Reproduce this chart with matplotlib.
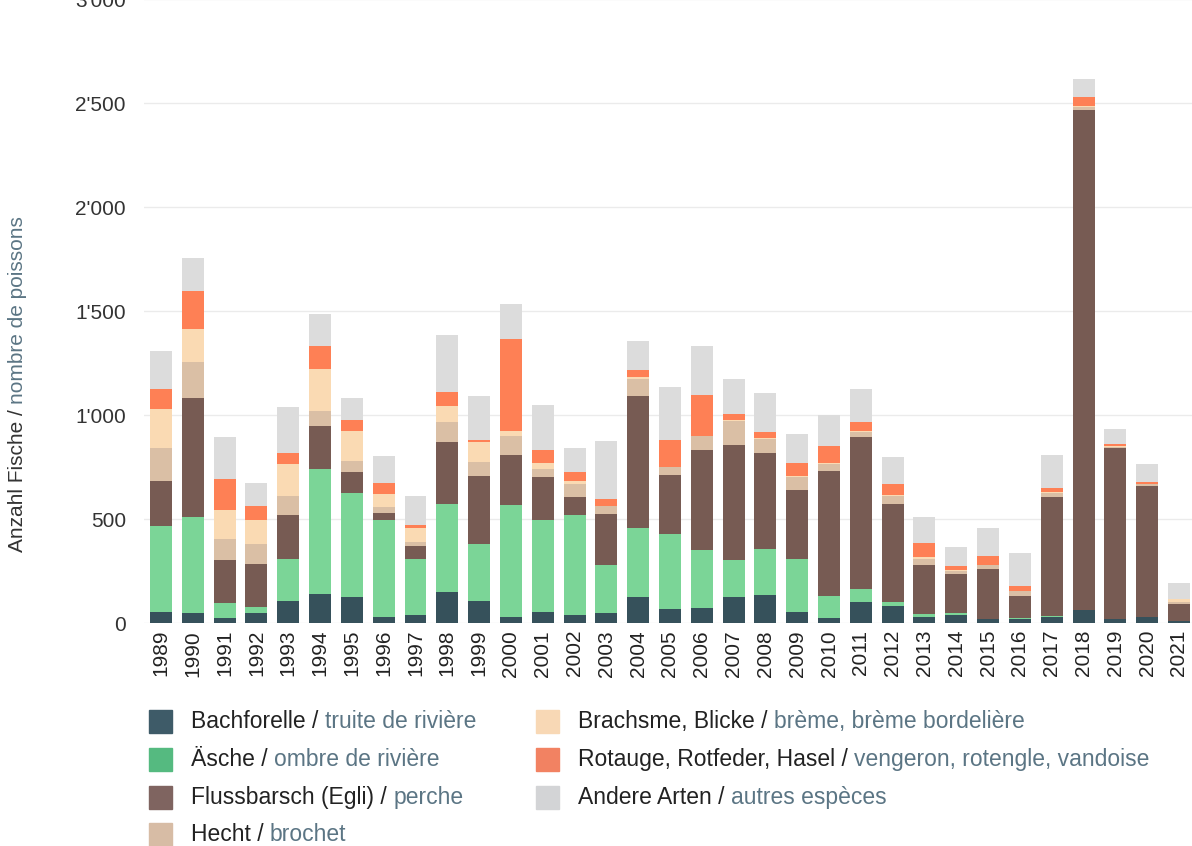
import numpy as np
import matplotlib.pyplot as plt
from matplotlib.patches import Rectangle

plt.rcParams['font.family'] = ['Liberation Sans', 'DejaVu Sans']

years = list(range(1989, 2022))

# Anzahl Fische pro Art (von unten nach oben gestapelt)
bachforelle = [54, 46, 26, 50, 106, 139, 124, 27, 40, 148, 107, 27, 54, 40, 48, 127, 69,
               71, 125, 133, 51, 23, 101, 84, 31, 37, 18, 19, 31, 61, 17, 31, 9]
aesche = [411, 464, 70, 27, 202, 603, 503, 468, 266, 424, 274, 542, 440, 478, 229, 331, 357,
          281, 176, 221, 255, 105, 61, 17, 11, 10, 2, 7, 4, 0, 0, 0, 0]
flussbarsch = [218, 570, 208, 205, 211, 207, 98, 35, 63, 300, 327, 240, 210, 86, 249, 633, 286,
               481, 555, 465, 333, 602, 731, 472, 238, 189, 239, 103, 573, 2406, 822, 629, 84]
hecht = [157, 173, 100, 98, 90, 70, 55, 29, 22, 93, 66, 92, 36, 64, 35, 84, 36,
         68, 114, 67, 65, 35, 26, 37, 27, 14, 19, 23, 19, 15, 9, 7, 8]
brachsme = [189, 160, 138, 114, 154, 202, 145, 60, 67, 78, 96, 22, 31, 13, 3, 8, 0,
            0, 6, 3, 3, 4, 3, 3, 11, 3, 3, 3, 4, 4, 1, 2, 13]
rotauge = [98, 183, 149, 70, 54, 112, 50, 54, 13, 66, 11, 441, 61, 44, 31, 33, 133,
           195, 27, 31, 61, 84, 44, 53, 66, 21, 42, 21, 17, 42, 12, 9, 0]
andere = [181, 159, 203, 111, 220, 153, 107, 132, 138, 274, 210, 170, 218, 115, 282, 141, 254,
          234, 172, 186, 139, 148, 161, 134, 128, 93, 133, 161, 161, 89, 74, 87, 78]

series = [bachforelle, aesche, flussbarsch, hecht, brachsme, rotauge, andere]
bar_colors = ['#36515b', '#7bd597', '#775b53', '#dabfa5', '#fadab3', '#fe8055', '#dcdcdc']
legend_colors = ['#3e5b68', '#55ba80', '#7f6460', '#d7bca5', '#f8d8b5', '#f28262', '#d3d4d6']
labels_de = ['Bachforelle / ', 'Äsche / ', 'Flussbarsch (Egli) / ', 'Hecht / ',
             'Brachsme, Blicke / ', 'Rotauge, Rotfeder, Hasel / ', 'Andere Arten / ']
labels_fr = ['truite de rivière', 'ombre de rivière', 'perche', 'brochet',
             'brème, brème bordelière', 'vengeron, rotengle, vandoise', 'autres espèces']

dark = '#222222'
slate = '#5b7584'

W, H = 1192, 846
fig = plt.figure(figsize=(W / 100, H / 100), dpi=100)
ax = fig.add_axes([144 / W, 1 - 623 / H, 1048 / W, 624 / H])

x = np.arange(len(years))
bottom = np.zeros(len(years))
for vals, c in zip(series, bar_colors):
    ax.bar(x, vals, width=0.69, bottom=bottom, color=c, linewidth=0, zorder=2)
    bottom += np.array(vals)

ax.set_xlim(-0.535, len(years) - 1 + 0.41)
ax.set_ylim(0, 3000)
ax.set_yticks([0, 500, 1000, 1500, 2000, 2500, 3000])
ax.set_yticklabels(['0', '500', "1'000", "1'500", "2'000", "2'500", "3'000"])
ax.set_xticks(x)
ax.set_xticklabels([str(y) for y in years], rotation=90)
ax.tick_params(axis='y', length=0, pad=13, labelsize=15, labelcolor='#333333')
ax.tick_params(axis='x', length=0, pad=5, labelsize=15, labelcolor='#222222')
ax.grid(axis='y', color='#ebebeb', linewidth=1, zorder=0)
ax.set_axisbelow(True)
for s in ax.spines.values():
    s.set_visible(False)

# y-Achsentitel zweifarbig
t = fig.text(18 / W, 1 - 552 / H, 'Anzahl Fische / ', rotation=90, ha='center', va='bottom',
             fontsize=15, color='#333333')
ax.annotate('nombre de poissons', xy=(0.5, 1), xycoords=t, rotation=90, ha='center',
            va='bottom', fontsize=15, color=slate, annotation_clip=False)

# Legende
rows_y = [721.5, 759.5, 797, 834.5]
entries = [(0, 0), (0, 1), (0, 2), (0, 3), (1, 0), (1, 1), (1, 2)]
col_sw = [149, 536]
col_tx = [191, 578]
for i, (col, row) in enumerate(entries):
    cy = rows_y[row]
    fig.patches.append(Rectangle((col_sw[col] / W, 1 - (cy + 11.5) / H), 23 / W, 23 / H,
                                 transform=fig.transFigure, color=legend_colors[i], figure=fig))
    t1 = fig.text(col_tx[col] / W, 1 - cy / H, labels_de[i], ha='left', va='center',
                  fontsize=16.5, color=dark)
    ax.annotate(labels_fr[i], xy=(1, 0), xycoords=t1, ha='left', va='bottom',
                fontsize=16.5, color=slate, annotation_clip=False)

fig.savefig('out.png', dpi=100)
